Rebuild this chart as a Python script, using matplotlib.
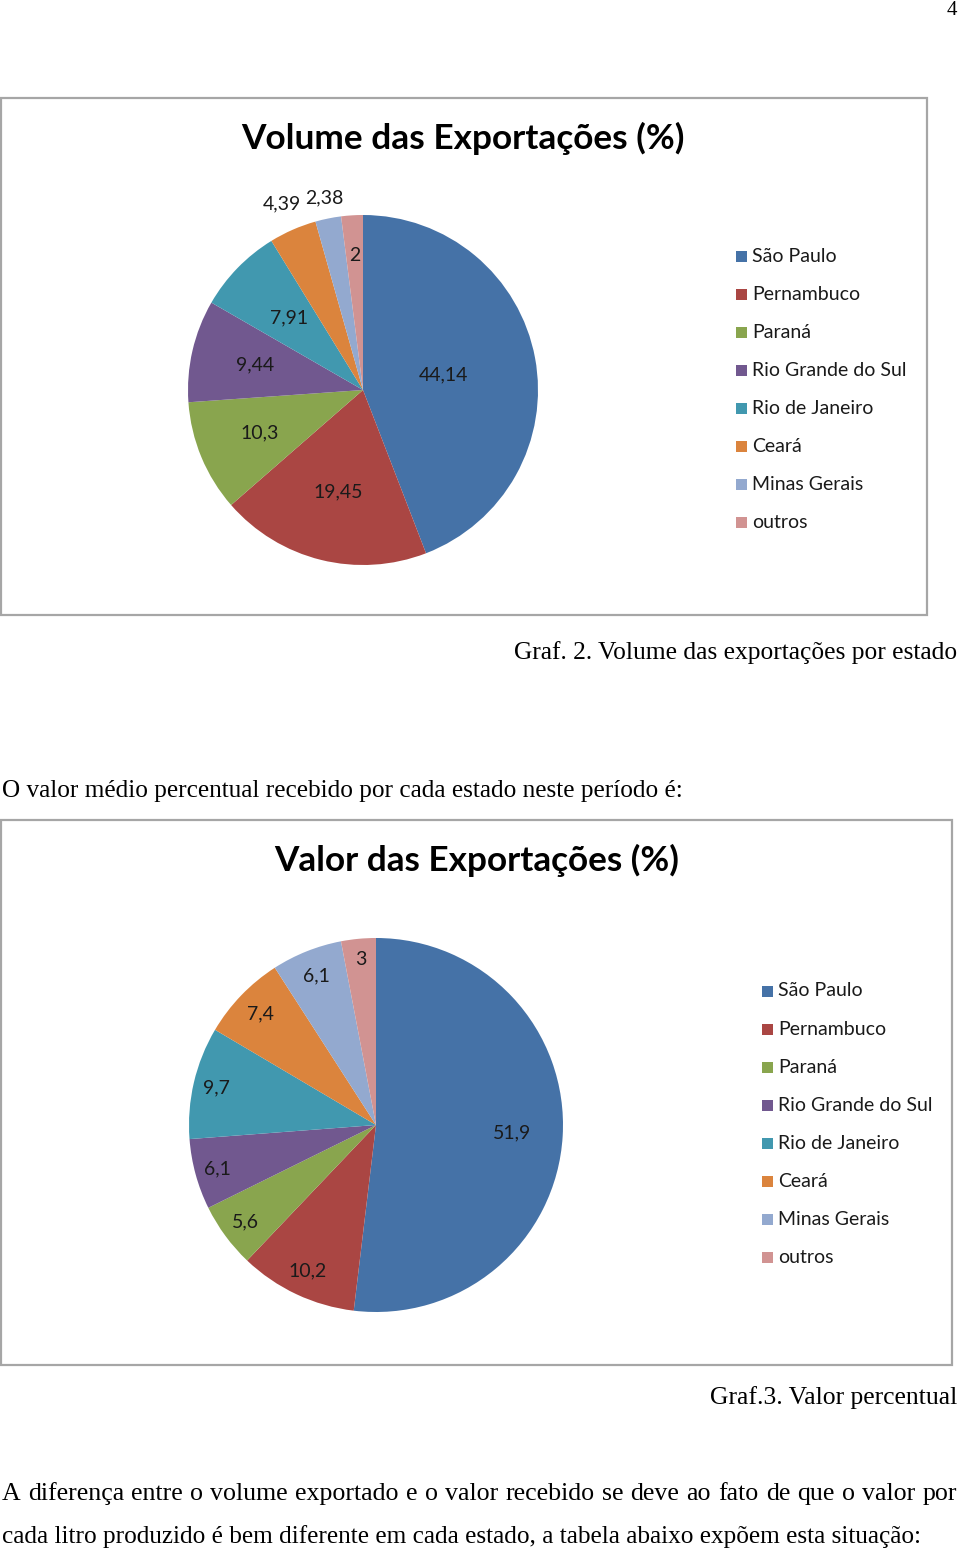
import numpy as np
import matplotlib
matplotlib.use("Agg")
import matplotlib.pyplot as plt
from matplotlib.patches import Rectangle

# -- Data
STATES = ["São Paulo", "Pernambuco", "Paraná", "Rio Grande do Sul",
          "Rio de Janeiro", "Ceará", "Minas Gerais", "outros"]
VOLUME = [44.14, 19.45, 10.3, 9.44, 7.91, 4.39, 2.38, 2]
VALOR = [51.9, 10.2, 5.6, 6.1, 9.7, 7.4, 6.1, 3]
VOLUME_LABELS = ["44,14", "19,45", "10,3", "9,44", "7,91", "4,39", "2,38", "2"]
VALOR_LABELS = ["51,9", "10,2", "5,6", "6,1", "9,7", "7,4", "6,1", "3"]

TITLE_1 = "Volume das Exportações (%)"
TITLE_2 = "Valor das Exportações (%)"
CAPTION_1 = "Graf. 2. Volume das exportações por estado"
CAPTION_2 = "Graf.3. Valor percentual"
INTRO = "O valor médio percentual recebido por cada estado neste período é:"
BODY_1 = "A diferença entre o volume exportado e o valor recebido se deve ao fato de que o valor por"
BODY_2 = "cada litro produzido é bem diferente em cada estado, a tabela abaixo expõem esta situação:"

# -- Style
COLORS = ["#4572A7", "#AA4643", "#89A54E", "#71588F",
          "#4198AF", "#DB843D", "#93A9CF", "#D19392"]
DIST_1 = [0.47, 0.60, 0.64, 0.63, 0.59, 1.16, 1.12, 0.77]
DIST_2 = [0.73, 0.86, 0.87, 0.88, 0.875, 0.855, 0.86, 0.89]
CHART_FONT = "Lato"
SERIF = "Liberation Serif"
W, H = 960, 1551

fig = plt.figure(figsize=(W / 100, H / 100), dpi=100)
fig.patch.set_facecolor("white")
bg = fig.add_axes([0, 0, 1, 1])
bg.set_xlim(0, W)
bg.set_ylim(H, 0)
bg.axis("off")
renderer = fig.canvas.get_renderer()


def fit(t, width):
    # scale the font so the text spans the given pixel width
    bb = t.get_window_extent(renderer)
    t.set_fontsize(t.get_fontsize() * width / bb.width)
    return t


def justify(line, x0, x1, y):
    probe = fit(bg.text(x0, y, line, fontsize=17, family=SERIF), (x1 - x0) * 0.985)
    size = probe.get_fontsize()
    probe.remove()
    words = line.split()
    texts = [bg.text(0, y, w, fontsize=size, family=SERIF, va="center") for w in words]
    widths = [t.get_window_extent(renderer).width for t in texts]
    gap = (x1 - x0 - sum(widths)) / (len(words) - 1)
    x = x0
    for t, w in zip(texts, widths):
        t.set_x(x)
        x += w + gap


def chart(box, title, title_xy, title_w, values, labels, dists, center, radius,
          leg_x, leg_y0, leg_step):
    x0, y0, x1, y1 = box
    bg.add_patch(Rectangle((x0, y0), x1 - x0, y1 - y0, fill=False,
                           edgecolor="#A6A6A6", linewidth=1.6))
    fit(bg.text(title_xy[0], title_xy[1], title, fontsize=20, fontweight="bold",
                family=CHART_FONT, ha="center", va="center", color="black"), title_w)

    cx, cy = center
    ax = fig.add_axes([(cx - radius) / W, 1 - (cy + radius) / H,
                       2 * radius / W, 2 * radius / H])
    wedges, _ = ax.pie(values, colors=COLORS, startangle=90, counterclock=False,
                       radius=1, wedgeprops=dict(linewidth=0))
    for w, lab, d in zip(wedges, labels, dists):
        ang = np.deg2rad((w.theta1 + w.theta2) / 2)
        ax.text(d * np.cos(ang), d * np.sin(ang), lab, ha="center", va="center",
                fontsize=14, family=CHART_FONT, color="#1a1a1a")
    ax.set_xlim(-1, 1)
    ax.set_ylim(-1, 1)
    ax.set_aspect("equal")
    ax.axis("off")

    for i, (name, c) in enumerate(zip(STATES, COLORS)):
        y = leg_y0 + i * leg_step
        bg.add_patch(Rectangle((leg_x, y - 5.5), 11, 11, facecolor=c, edgecolor="none"))
        bg.text(leg_x + 16, y, name, fontsize=14, family=CHART_FONT,
                va="center", ha="left", color="#1a1a1a")


chart((1, 98, 927, 615), TITLE_1, (463, 138), 443, VOLUME, VOLUME_LABELS, DIST_1,
      (363, 390), 175, 736, 256, 38.1)
chart((1, 820, 952, 1365), TITLE_2, (477, 860), 405, VALOR, VALOR_LABELS, DIST_2,
      (376, 1125), 187, 762, 991, 38.1)

bg.text(957, 1, "4", fontsize=15, family=SERIF, ha="right", va="top")
fit(bg.text(957, 653, CAPTION_1, fontsize=17, family=SERIF, ha="right", va="center"), 443)
fit(bg.text(2, 791, INTRO, fontsize=17, family=SERIF, ha="left", va="center"), 681)
fit(bg.text(957, 1398, CAPTION_2, fontsize=17, family=SERIF, ha="right", va="center"), 247)
justify(BODY_1, 2, 957, 1494)
fit(bg.text(2, 1537, BODY_2, fontsize=17, family=SERIF, ha="left", va="center"), 920)

fig.savefig("out.png", dpi=100)
